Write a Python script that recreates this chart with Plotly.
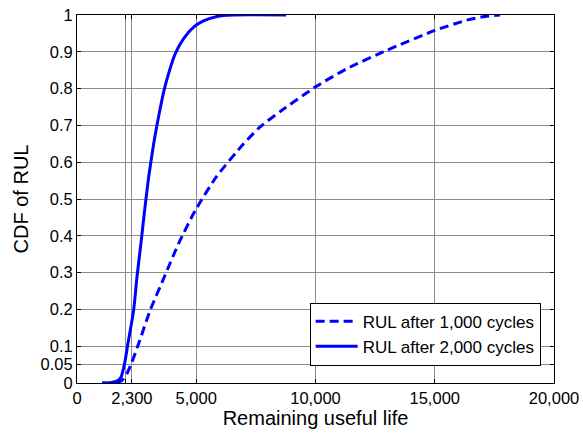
import plotly.graph_objects as go

# RUL after 2,000 cycles (solid)
x_2000 = [1050, 1400, 1700, 1845, 1995, 2135, 2375, 2515, 2680, 2835, 3005, 3215, 3350, 3500,
          3650, 3800, 4120, 4470, 4890, 5305, 5870, 6550, 8770]
y_2000 = [0.0, 0.001, 0.006, 0.016, 0.053, 0.107, 0.198, 0.288, 0.379, 0.469, 0.56, 0.65, 0.70, 0.75,
          0.795, 0.832, 0.895, 0.936, 0.967, 0.984, 0.996, 1.0, 1.0]

# RUL after 1,000 cycles (dashed)
x_1000 = [1050, 1500, 1885, 2095, 2305, 2585, 3070, 3660, 4260, 4960, 5840, 6985,
          7680, 8590, 10030, 11315, 12990, 15000, 16345, 17100, 17740]
y_1000 = [0.0, 0.0, 0.007, 0.026, 0.057, 0.107, 0.198, 0.288, 0.379, 0.469, 0.56, 0.65,
          0.696, 0.741, 0.806, 0.854, 0.904, 0.958, 0.986, 0.996, 1.0]

x_tickvals = [0, 2050, 2300, 5000, 10000, 15000, 20000]
x_ticktext = ["0", "", "2,300", "5,000", "10,000", "15,000", "20,000"]
y_tickvals = [0, 0.05, 0.1, 0.2, 0.3, 0.4, 0.5, 0.6, 0.7, 0.8, 0.9, 1]
y_ticktext = ["0", "0.05", "0.1", "0.2", "0.3", "0.4", "0.5", "0.6", "0.7", "0.8", "0.9", "1"]

FONT = "Liberation Sans, Arial, sans-serif"

fig = go.Figure()
fig.add_trace(go.Scatter(x=x_1000, y=y_1000, mode="lines", name="RUL after 1,000 cycles",
                         line=dict(color="#0000FF", width=3, dash="9px,5px", shape="spline", smoothing=0.6)))
fig.add_trace(go.Scatter(x=x_2000, y=y_2000, mode="lines", name="RUL after 2,000 cycles",
                         line=dict(color="#0000FF", width=3, shape="spline", smoothing=0.6)))

axis_common = dict(showline=True, linecolor="black", linewidth=1, mirror="ticks",
                   ticks="inside", ticklen=4, tickcolor="black", automargin=False,
                   showgrid=True, gridcolor="#8c8c8c", gridwidth=1, zeroline=False,
                   tickfont=dict(family=FONT, size=16.5, color="black"))

fig.update_xaxes(range=[0, 20000], tickmode="array", tickvals=x_tickvals, ticktext=x_ticktext,
                 title=dict(text="Remaining useful life", font=dict(family=FONT, size=20, color="black"),
                            standoff=4),
                 **axis_common)
fig.update_yaxes(range=[0, 1], tickmode="array", tickvals=y_tickvals, ticktext=y_ticktext,
                 title=dict(text="CDF of RUL", font=dict(family=FONT, size=20, color="black"),
                            standoff=6),
                 **axis_common)

fig.update_layout(
    width=583, height=433,
    margin=dict(l=77, r=29, t=15, b=50),
    paper_bgcolor="white", plot_bgcolor="white",
    font=dict(family=FONT, color="black"),
    legend=dict(x=0.972, y=0.047, xanchor="right", yanchor="bottom",
                bordercolor="black", borderwidth=1, bgcolor="white",
                font=dict(family=FONT, size=17, color="black"),
                itemwidth=42, tracegroupgap=0),
    showlegend=True,
)

fig.write_html("out.html", config={"displayModeBar": False},
               post_script="document.body.style.margin='0';")
